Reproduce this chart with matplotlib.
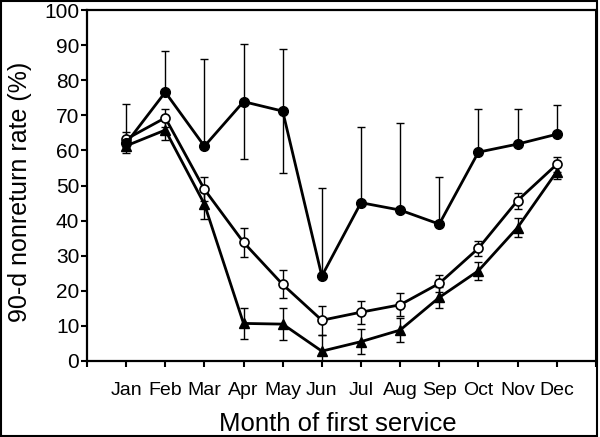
import matplotlib
matplotlib.use('Agg')
import matplotlib.pyplot as plt
import numpy as np

months = ['Jan', 'Feb', 'Mar', 'Apr', 'May', 'Jun',
          'Jul', 'Aug', 'Sep', 'Oct', 'Nov', 'Dec']

# filled circles
rate_a = [62.0, 76.6, 61.2, 73.9, 71.2, 24.2, 45.1, 43.0, 39.0, 59.5, 61.8, 64.6]
err_a_hi = [11.2, 11.7, 24.8, 16.5, 17.7, 25.0, 21.6, 24.9, 13.5, 12.3, 9.9, 8.2]
err_a_lo = [0, 0, 0, 16.4, 17.6, 0, 0, 0, 0, 0, 0, 0]

# open circles
rate_b = [63.2, 69.3, 48.9, 33.8, 21.8, 11.6, 13.9, 16.0, 22.1, 32.1, 45.7, 56.0]
err_b = [2.1, 2.6, 3.4, 4.2, 4.0, 4.2, 3.3, 3.3, 2.4, 2.1, 2.3, 2.2]

# filled triangles
rate_c = [61.3, 65.8, 44.7, 10.7, 10.5, 2.8, 5.5, 8.8, 18.1, 25.7, 38.0, 53.9]
err_c = [2.1, 2.8, 4.2, 4.5, 4.6, 4.6, 3.6, 3.5, 3.1, 2.6, 2.6, 2.1]

FONT = 'Liberation Sans'
plt.rc('font', family=FONT)

fig = plt.figure(figsize=(6.0, 4.37), dpi=100)
ax = fig.add_axes([0.145, 0.174, 0.848, 0.803])

x = np.arange(1, len(months) + 1)
ekw = dict(fmt='none', ecolor='black', elinewidth=1.0, capsize=3, capthick=1.0, zorder=2)
ax.errorbar(x, rate_c, yerr=[err_c, err_c], **ekw)
ax.errorbar(x, rate_b, yerr=[err_b, err_b], **ekw)
ax.errorbar(x, rate_a, yerr=[err_a_lo, err_a_hi], **ekw)

ax.plot(x, rate_c, color='black', lw=2.0, marker='^', ms=6.5, mfc='black', zorder=3)
ax.plot(x, rate_b, color='black', lw=2.0, marker='o', ms=6.5, mfc='white', mew=1.2, zorder=4)
ax.plot(x, rate_a, color='black', lw=2.0, marker='o', ms=7, mfc='black', zorder=5)

ax.set_xlim(0, 13)
ax.set_ylim(0, 100)
ax.set_xticks(np.arange(0, 14))
ax.set_xticklabels([''] + months + [''])
ax.set_yticks(np.arange(0, 101, 10))
ax.tick_params(axis='x', direction='out', length=4, width=1.5, pad=11, labelsize=14)
ax.tick_params(axis='y', direction='out', length=4.5, width=1.5, pad=1, labelsize=15)
for s in ax.spines.values():
    s.set_linewidth(1.6)
ax.spines['right'].set_linewidth(2.2)

fig.text(20 / 600, 1 - 192 / 437, '90-d nonreturn rate (%)', rotation=90,
         ha='center', va='center', fontsize=18)
fig.text(338 / 600, 1 - 431 / 437, 'Month of first service',
         ha='center', va='baseline', fontsize=18.5)

fig.add_artist(plt.Rectangle((0.002, 0.003), 0.993, 0.994, transform=fig.transFigure,
                             fill=False, edgecolor='black', lw=1.5))

fig.savefig('out.png', dpi=100)
